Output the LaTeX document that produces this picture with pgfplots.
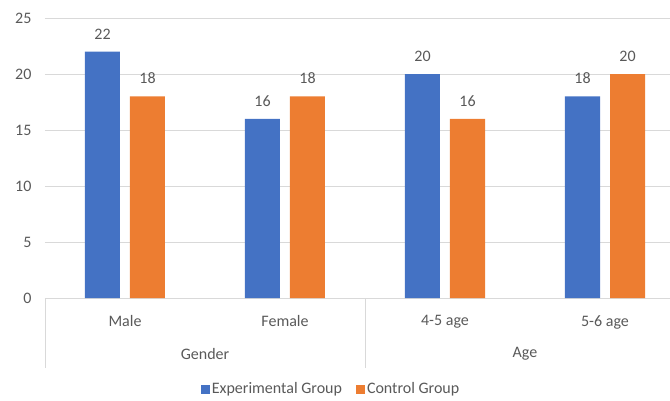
\documentclass[border=0pt]{standalone}
\usepackage{pgfplots}
\pgfplotsset{compat=1.18}
\usepackage{fontspec}
\setmainfont{Carlito}
\definecolor{expblue}{HTML}{4472C4}
\definecolor{ctrlorange}{HTML}{ED7D31}
\definecolor{txtgray}{HTML}{595959}
\definecolor{gridgray}{HTML}{D9D9D9}
\newcommand{\chartfont}{\fontsize{16}{19}\selectfont}
\begin{document}
\begin{tikzpicture}[x=1pt,y=1pt]
\clip (-45,-102) rectangle (625,298);
\begin{axis}[
  at={(0,0)}, anchor=south west,
  scale only axis, width=640pt, height=280pt,
  xmin=-0.5, xmax=3.5, ymin=0, ymax=25,
  ytick={0,5,10,15,20,25},
  xtick={0,1,2,3}, xticklabels={Male,Female,4-5 age,5-6 age},
  /pgf/number format/assume math mode=true,
  ybar=10pt, bar width=35pt,
  axis x line*=bottom, axis y line*=left,
  y axis line style={draw=none},
  x axis line style={draw=gridgray, line width=0.8pt},
  major tick length=0pt,
  ymajorgrids, grid style={draw=gridgray, line width=0.8pt},
  ticklabel style={font=\chartfont, text=txtgray},
  yticklabel style={xshift=-10pt},
  xticklabel style={yshift=-14pt},
  nodes near coords,
  every node near coord/.append style={font=\chartfont, text=txtgray, yshift=9pt},
  legend columns=2,
  legend style={at={(0.447,-0.325)}, anchor=center, draw=none, fill=none,
    font=\chartfont, text=txtgray,
    /tikz/every even column/.append style={column sep=12pt}},
  legend image code/.code={\fill[#1] (0pt,-4.5pt) rectangle (9pt,4.5pt);},
  clip=false,
]
\addplot[draw=none, fill=expblue] coordinates {(0,22) (1,16) (2,20) (3,18)};
\addplot[draw=none, fill=ctrlorange] coordinates {(0,18) (1,18) (2,16) (3,20)};
\legend{Experimental Group, Control Group}
\draw[gridgray, line width=0.8pt] (axis cs:-0.5,0) -- ++(0pt,-70pt);
\draw[gridgray, line width=0.8pt] (axis cs:1.5,0) -- ++(0pt,-70pt);
\draw[gridgray, line width=0.8pt] (axis cs:3.5,0) -- ++(0pt,-70pt);
\node[font=\chartfont, text=txtgray] at ([yshift=-56pt]axis cs:0.5,0) {Gender};
\node[font=\chartfont, text=txtgray] at ([yshift=-56pt]axis cs:2.5,0) {Age};
\end{axis}
\end{tikzpicture}
\end{document}
